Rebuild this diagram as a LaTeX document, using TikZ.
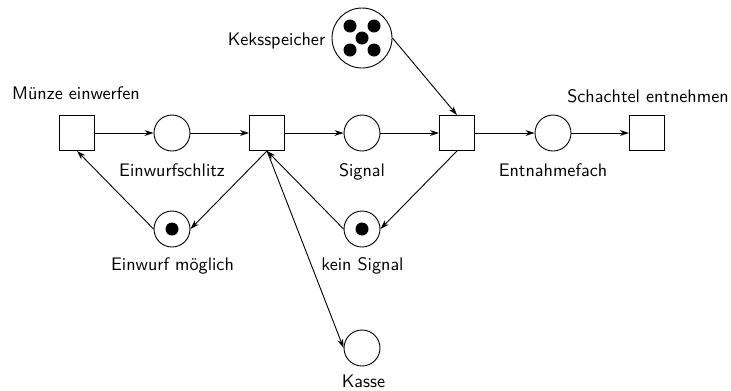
\documentclass[tikz,border=0pt]{standalone}
\usetikzlibrary{arrows.meta}
\begin{document}
\begin{tikzpicture}[x=0.551pt,y=-0.551pt,
  font=\sffamily,
  place/.style={circle,draw,line width=0.5pt,minimum size=36*0.551pt,inner sep=0pt},
  bigplace/.style={circle,draw,line width=0.5pt,minimum size=60*0.551pt,inner sep=0pt},
  transition/.style={rectangle,draw,line width=0.5pt,minimum size=35*0.551pt,inner sep=0pt},
  lbl/.style={anchor=base,inner sep=0pt},
  arc/.style={-{Stealth[length=5pt,width=3.2pt]},line width=0.5pt},
  token/.style={circle,fill=black,minimum size=13*0.551pt,inner sep=0pt}]
\useasboundingbox (0,0) rectangle (731,390);
% transitions
\node[transition] (t1) at (77,133) {};
\node[transition] (t2) at (267,133) {};
\node[transition] (t3) at (457,133) {};
\node[transition] (t4) at (647,133) {};
% places
\node[place] (p1) at (172,133) {};
\node[place] (p2) at (362,133) {};
\node[place] (p3) at (553,133) {};
\node[place] (em) at (172,229) {};
\node[place] (ks) at (362,229) {};
\node[place] (kasse) at (362,348) {};
\node[bigplace] (keks) at (362,38) {};
% tokens
\node[token] (tokem) at (172,229) {};
\node[token] (tokks) at (362,229) {};
\node[token] (k0) at (362,38) {};
\node[token] (k1) at (350,26) {};
\node[token] (k2) at (374,26) {};
\node[token] (k3) at (350,50) {};
\node[token] (k4) at (374,50) {};
% labels
\node[lbl] (l1) at (76,99) {M\"unze einwerfen};
\node[lbl] (l2) at (648,102) {Schachtel entnehmen};
\node[lbl] (l3) at (276.5,45) {Keksspeicher};
\node[lbl] (l4) at (172,176) {Einwurfschlitz};
\node[lbl] (l5) at (362,176) {Signal};
\node[lbl] (l6) at (553,176) {Entnahmefach};
\node[lbl] (l7) at (172.5,270) {Einwurf m\"oglich};
\node[lbl] (l8) at (362.5,270) {kein Signal};
\node[lbl] (l9) at (363.5,387) {Kasse};
% arcs
\draw[arc] (t1.east) -- (p1.west);
\draw[arc] (p1.east) -- (t2.west);
\draw[arc] (t2.east) -- (p2.west);
\draw[arc] (p2.east) -- (t3.west);
\draw[arc] (t3.east) -- (p3.west);
\draw[arc] (p3.east) -- (t4.west);
\draw[arc] (keks.east) -- (t3.north);
\draw[arc] (em.west) -- (t1.south);
\draw[arc] (t2.south) -- (em.east);
\draw[arc] (ks.west) -- (t2.south);
\draw[arc] (t2.south) -- (kasse.west);
\draw[arc] (t3.south) -- (ks.east);
\end{tikzpicture}
\end{document}
